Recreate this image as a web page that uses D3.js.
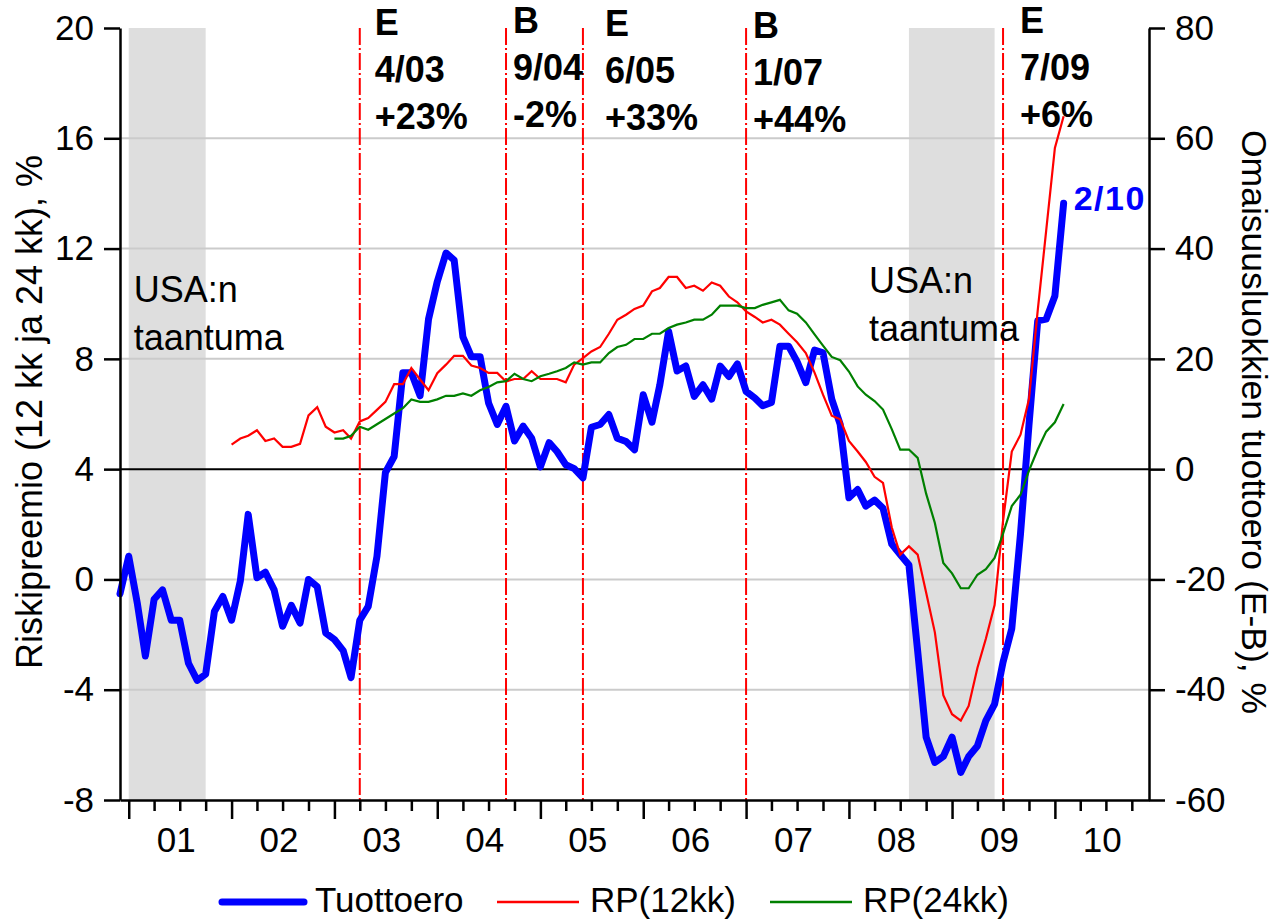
<!DOCTYPE html>
<html>
<head>
<meta charset="utf-8">
<script src="https://cdn.jsdelivr.net/npm/d3@7"></script>
<style>
  body { margin: 0; background: #fff; }
  text { font-family: "Liberation Sans", Arial, sans-serif; }
</style>
</head>
<body>
<div id="chart"></div>
<script>
// Monthly series, first value = month given in the start string
var blueStart = "2000-12";
var tuottoero = [ // right axis, %
  -22.6, -15.8, -24.5, -33.9, -23.6, -21.9, -27.4, -27.4, -35.2, -38.3, -37.2, -25.8,
  -23.1, -27.4, -20.3, -8.2, -19.7, -18.7, -21.9, -28.5, -24.7, -27.9, -20.0, -21.3,
  -29.7, -30.9, -32.9, -37.8, -27.4, -24.9, -15.8, -0.6, 2.3, 17.5, 17.5, 13.3,
  27.2, 34.0, 39.2, 37.9, 24.0, 20.4, 20.4, 12.0, 8.1, 11.4, 5.1, 7.8,
  5.6, 0.4, 4.8, 3.2, 0.8, 0.1, -1.6, 7.6, 8.1, 9.9, 5.6, 5.0,
  3.5, 13.5, 8.5, 15.3, 25.0, 17.8, 18.7, 13.2, 15.3, 12.7, 18.7, 16.8,
  19.1, 14.1, 12.9, 11.5, 12.1, 22.3, 22.3, 19.5, 15.7, 21.6, 21.1, 12.7,
  8.1, -5.2, -3.7, -6.7, -5.6, -7.1, -13.6, -15.5, -17.4, -33.0, -48.6, -53.2,
  -52.1, -48.6, -55.0, -52.1, -50.2, -45.6, -42.6, -35.0, -28.9, -11.7, 8.0, 26.9,
  27.2, 31.4, 48.2
];

var rp12Start = "2002-01";
var rp12 = [ // left axis, %
  4.89, 5.11, 5.21, 5.41, 5.02, 5.11, 4.81, 4.81, 4.92, 5.95, 6.25, 5.54,
  5.33, 5.41, 5.11, 5.73, 5.85, 6.15, 6.44, 7.08, 7.08, 7.67, 7.25, 6.86,
  7.48, 7.79, 8.11, 8.11, 7.76, 7.67, 7.49, 7.49, 7.18, 7.27, 7.27, 7.55,
  7.27, 7.27, 7.27, 7.15, 7.79, 8.03, 8.27, 8.43, 8.91, 9.42, 9.6, 9.81,
  9.93, 10.45, 10.57, 10.97, 10.97, 10.57, 10.65, 10.47, 10.77, 10.65, 10.26, 10.05,
  9.72, 9.52, 9.32, 9.42, 9.24, 8.91, 8.6, 8.21, 7.5, 6.7, 5.94, 5.81,
  5.02, 4.64, 4.26, 3.72, 3.5, 1.89, 0.9, 1.2, 0.9, -0.47, -1.92, -4.2,
  -4.89, -5.12, -4.59, -3.21, -2.15, -0.93, 2.12, 4.64, 5.25, 6.54, 9.75, 12.64,
  15.65, 16.8
];

var rp24Start = "2003-01";
var rp24 = [ // left axis, %
  5.11, 5.11, 5.21, 5.54, 5.43, 5.63, 5.82, 6.02, 6.21, 6.53, 6.44, 6.44,
  6.53, 6.66, 6.66, 6.75, 6.66, 6.86, 6.98, 7.15, 7.19, 7.46, 7.27, 7.19,
  7.37, 7.46, 7.55, 7.67, 7.87, 7.79, 7.87, 7.87, 8.21, 8.43, 8.51, 8.72,
  8.72, 8.91, 8.91, 9.12, 9.24, 9.32, 9.42, 9.42, 9.6, 9.93, 9.93, 9.93,
  9.84, 9.84, 9.96, 10.05, 10.14, 9.76, 9.64, 9.32, 8.89, 8.48, 8.07, 7.95,
  7.54, 7.0, 6.7, 6.47, 6.16, 5.45, 4.71, 4.71, 4.41, 3.11, 2.05, 0.6,
  0.22, -0.32, -0.32, 0.17, 0.37, 0.78, 1.66, 2.66, 3.07, 3.95, 4.71, 5.36,
  5.7, 6.36
];

// US recessions (shaded), start and end month
var recessions = [["2001-01", "2001-10"], ["2008-08", "2009-06"]];

// Switch dates between equities (E) and bonds (B)
var switchDates = ["2003-04", "2004-09", "2005-06", "2007-01", "2009-07"];
var switchKind = ["E", "B", "E", "B", "E"];
var switchLabel = ["4/03", "9/04", "6/05", "1/07", "7/09"];
var switchChange = ["+23%", "-2%", "+33%", "+44%", "+6%"];

var leftTicks = [-8, -4, 0, 4, 8, 12, 16, 20];
var rightTicks = [-60, -40, -20, 0, 20, 40, 60, 80];
var gridTicks = [-4, 0, 8, 12, 16];
var years = [2001, 2002, 2003, 2004, 2005, 2006, 2007, 2008, 2009, 2010];

var legendNames = ["Tuottoero", "RP(12kk)", "RP(24kk)"];

(function() {
  var W = 1277, H = 920;
  var left = 120, right = 1149, top = 28, bottom = 800;

  var parse = d3.utcParse("%Y-%m");

  var svg = d3.select('#chart').append('svg')
    .attr('width', W).attr('height', H);

  var x = d3.scaleUtc()
    .domain([parse("2000-12"), parse("2010-12")])
    .range([left, right]);
  var yL = d3.scaleLinear().domain([-8, 20]).range([bottom, top]);
  var yR = d3.scaleLinear().domain([-60, 80]).range([bottom, top]);

  function monthly(start, values) {
    var s = parse(start);
    return values.map(function(v, i) {
      return { date: d3.utcMonth.offset(s, i), value: v };
    });
  }

  // Recession shading
  svg.selectAll('rect.rec').data(recessions).enter().append('rect')
    .attr('x', function(d) { return x(parse(d[0])); })
    .attr('width', function(d) { return x(parse(d[1])) - x(parse(d[0])); })
    .attr('y', top)
    .attr('height', bottom - top)
    .attr('fill', '#dedede');

  // Grid lines
  svg.selectAll('line.grid').data(gridTicks).enter().append('line')
    .attr('x1', left).attr('x2', right)
    .attr('y1', function(d) { return yL(d); })
    .attr('y2', function(d) { return yL(d); })
    .attr('stroke', '#cbcbcb').attr('stroke-width', 2);

  // Zero line of right axis
  svg.append('line')
    .attr('x1', left).attr('x2', right)
    .attr('y1', yR(0)).attr('y2', yR(0))
    .attr('stroke', '#000').attr('stroke-width', 2);

  // Switch lines
  svg.selectAll('line.sw').data(switchDates).enter().append('line')
    .attr('x1', function(d) { return x(parse(d)); })
    .attr('x2', function(d) { return x(parse(d)); })
    .attr('y1', top).attr('y2', bottom)
    .attr('stroke', '#ff0000').attr('stroke-width', 2)
    .attr('stroke-dasharray', '17,3,2,3');

  // Series
  var lineR = d3.line()
    .x(function(d) { return x(d.date); })
    .y(function(d) { return yR(d.value); });
  var lineL = d3.line()
    .x(function(d) { return x(d.date); })
    .y(function(d) { return yL(d.value); });

  var blue = monthly(blueStart, tuottoero);
  svg.append('path').datum(blue)
    .attr('d', lineR).attr('fill', 'none')
    .attr('stroke', '#0000ff').attr('stroke-width', 7)
    .attr('stroke-linejoin', 'round').attr('stroke-linecap', 'round');

  svg.append('path').datum(monthly(rp12Start, rp12))
    .attr('d', lineL).attr('fill', 'none')
    .attr('stroke', '#ff0000').attr('stroke-width', 2.2);

  svg.append('path').datum(monthly(rp24Start, rp24))
    .attr('d', lineL).attr('fill', 'none')
    .attr('stroke', '#008000').attr('stroke-width', 2.2);

  // Axes
  var axL = svg.append('g').attr('transform', 'translate(' + left + ',0)')
    .call(d3.axisLeft(yL).tickValues(leftTicks).tickSize(16).tickSizeOuter(0)
      .tickPadding(10).tickFormat(function(d) { return String(d); }));
  var axR = svg.append('g').attr('transform', 'translate(' + right + ',0)')
    .call(d3.axisRight(yR).tickValues(rightTicks).tickSize(16).tickSizeOuter(0)
      .tickPadding(10).tickFormat(function(d) { return String(d); }));
  var axB = svg.append('g').attr('transform', 'translate(0,' + bottom + ')')
    .call(d3.axisBottom(x).ticks(d3.utcMonth.every(3)).tickSize(11)
      .tickSizeOuter(0).tickFormat(''));

  axB.selectAll('.tick line')
    .attr('y2', function(d) { return d.getUTCMonth() === 0 ? 19 : 11; });

  [axL, axR, axB].forEach(function(a) {
    a.select('.domain').attr('stroke', '#000').attr('stroke-width', 2.5);
    a.selectAll('.tick line').attr('stroke', '#000').attr('stroke-width', 2.5);
    a.selectAll('.tick text')
      .style('font-family', '"Liberation Sans", Arial, sans-serif')
      .style('font-size', '35px').attr('fill', '#000');
  });

  // Year labels centred in each year
  var fy = d3.utcFormat('%y');
  svg.selectAll('text.yr').data(years).enter().append('text')
    .attr('x', function(d) {
      return (x(new Date(Date.UTC(d, 0, 1))) + x(new Date(Date.UTC(d + 1, 0, 1)))) / 2 - 4;
    })
    .attr('y', 852)
    .attr('text-anchor', 'middle')
    .style('font-size', '35px')
    .text(function(d) { return fy(new Date(Date.UTC(d, 0, 1))); });

  // Axis titles
  svg.append('text')
    .attr('transform', 'translate(42,' + ((top + bottom) / 2 - 2) + ') rotate(-90)')
    .attr('text-anchor', 'middle')
    .style('font-size', '36px')
    .text('Riskipreemio (12 kk ja 24 kk), %');
  svg.append('text')
    .attr('transform', 'translate(1242,' + ((top + bottom) / 2 + 8) + ') rotate(90)')
    .attr('text-anchor', 'middle')
    .style('font-size', '35.5px')
    .text('Omaisuusluokkien tuottoero (E-B), %');

  // Switch annotations
  var annDx = [15, 7, 22, 7, 17];
  var annTop = [35, 33, 36, 38, 33];
  switchDates.forEach(function(d, i) {
    var g = svg.append('text')
      .attr('x', x(parse(d)) + annDx[i])
      .attr('y', annTop[i])
      .style('font-size', '36px').style('font-weight', 'bold');
    [switchKind[i], switchLabel[i], switchChange[i]].forEach(function(t, j) {
      g.append('tspan')
        .attr('x', x(parse(d)) + annDx[i])
        .attr('y', annTop[i] + j * 47)
        .text(t);
    });
  });

  // Recession labels
  recessions.forEach(function(r, i) {
    var tx = x(parse(r[0])) + (i === 0 ? 5 : -40);
    var ty = i === 0 ? 302 : 293;
    svg.append('text').attr('x', tx).attr('y', ty)
      .style('font-size', '36px').text('USA:n');
    svg.append('text').attr('x', tx).attr('y', ty + 48)
      .style('font-size', '36px').text('taantuma');
  });

  // Last value label
  var last = blue[blue.length - 1];
  svg.append('text')
    .attr('x', x(last.date) + 10)
    .attr('y', yR(last.value) + 7)
    .attr('fill', '#0000ff')
    .style('font-size', '34px').style('font-weight', 'bold')
    .style('letter-spacing', '1.5px')
    .text(d3.utcFormat('%-m/%y')(last.date));

  // Legend
  var legColor = ['#0000ff', '#ff0000', '#008000'];
  var legWidth = [7, 2.5, 2.5];
  var legX = [222, 497, 770];
  legendNames.forEach(function(n, i) {
    svg.append('line')
      .attr('x1', legX[i]).attr('x2', legX[i] + 82)
      .attr('y1', 902).attr('y2', 902)
      .attr('stroke', legColor[i]).attr('stroke-width', legWidth[i])
      .attr('stroke-linecap', i === 0 ? 'round' : 'butt');
    svg.append('text')
      .attr('x', legX[i] + 93).attr('y', 912)
      .style('font-size', '35px').text(n);
  });
})();
</script>
</body>
</html>
